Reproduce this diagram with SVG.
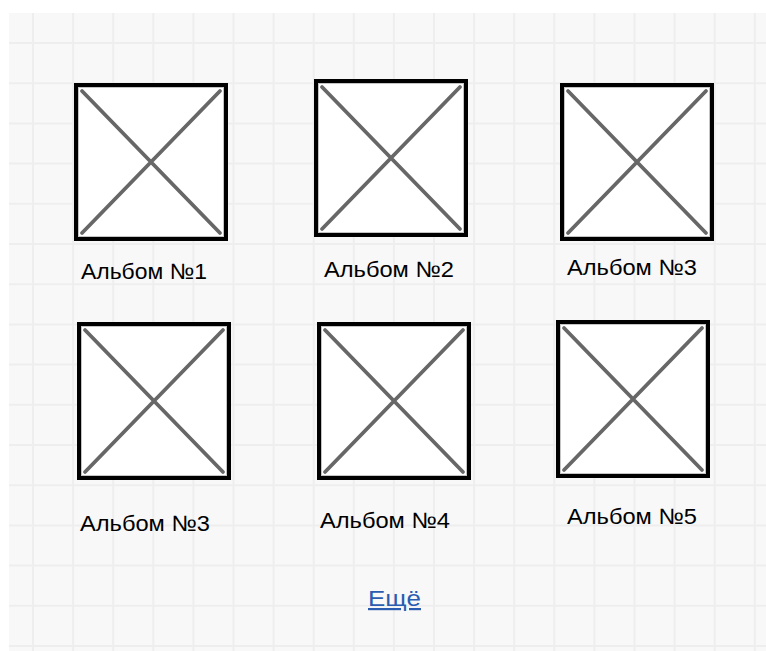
<svg xmlns="http://www.w3.org/2000/svg" width="766" height="651" viewBox="0 0 766 651">
<style>
.bg{fill:#f8f8f8}
.grid{stroke:#eeeeee;stroke-width:2;fill:none}
.frame{fill:#ffffff;stroke:#000000;stroke-width:4}
.inner{fill:none;stroke:#c4c4c4;stroke-width:1}
.diag{stroke:#676767;stroke-width:3.8;stroke-linecap:round;fill:none}
.lbl{font-family:"Liberation Sans",Arial,sans-serif;font-size:22px;fill:#000000}
.link{font-family:"Liberation Sans",Arial,sans-serif;font-size:22px;fill:#2a5cb0}
</style>
<defs>
<g id="ph">
<rect class="frame" x="2" y="2" width="150" height="154"/>
<rect class="inner" x="4.5" y="4.5" width="145" height="149"/>
<path class="diag" d="M8 8 L146 150 M146 8 L8 150"/>
</g>
</defs>
<rect class="bg" x="9" y="13" width="757" height="638"/>
<path class="grid" d="M33 13V651M73.1 13V651M113.2 13V651M153.3 13V651M193.4 13V651M233.5 13V651M273.6 13V651M313.7 13V651M353.8 13V651M393.9 13V651M434 13V651M474.1 13V651M514.2 13V651M554.3 13V651M594.4 13V651M634.5 13V651M674.6 13V651M714.7 13V651M754.8 13V651
M9 43H766M9 83.2H766M9 123.4H766M9 163.6H766M9 203.8H766M9 244H766M9 284.2H766M9 324.4H766M9 364.6H766M9 404.8H766M9 445H766M9 485.2H766M9 525.4H766M9 565.6H766M9 605.8H766M9 646H766"/>
<g id="album1">
<use href="#ph" x="74" y="83"/>
<text class="lbl" x="81" y="279" textLength="126" lengthAdjust="spacingAndGlyphs">Альбом №1</text>
</g>
<g id="album2">
<use href="#ph" x="314" y="79"/>
<text class="lbl" x="324" y="277" textLength="130" lengthAdjust="spacingAndGlyphs">Альбом №2</text>
</g>
<g id="album3">
<use href="#ph" x="560" y="83"/>
<text class="lbl" x="567" y="275" textLength="130" lengthAdjust="spacingAndGlyphs">Альбом №3</text>
</g>
<g id="album4">
<use href="#ph" x="77" y="322"/>
<text class="lbl" x="80" y="531" textLength="130" lengthAdjust="spacingAndGlyphs">Альбом №3</text>
</g>
<g id="album5">
<use href="#ph" x="317" y="322"/>
<text class="lbl" x="320" y="528" textLength="130" lengthAdjust="spacingAndGlyphs">Альбом №4</text>
</g>
<g id="album6">
<use href="#ph" x="556" y="320"/>
<text class="lbl" x="567" y="524" textLength="130" lengthAdjust="spacingAndGlyphs">Альбом №5</text>
</g>
<g id="more">
<text class="link" x="368" y="606" textLength="53" lengthAdjust="spacingAndGlyphs" text-decoration="underline">Ещё</text>
</g>
</svg>
